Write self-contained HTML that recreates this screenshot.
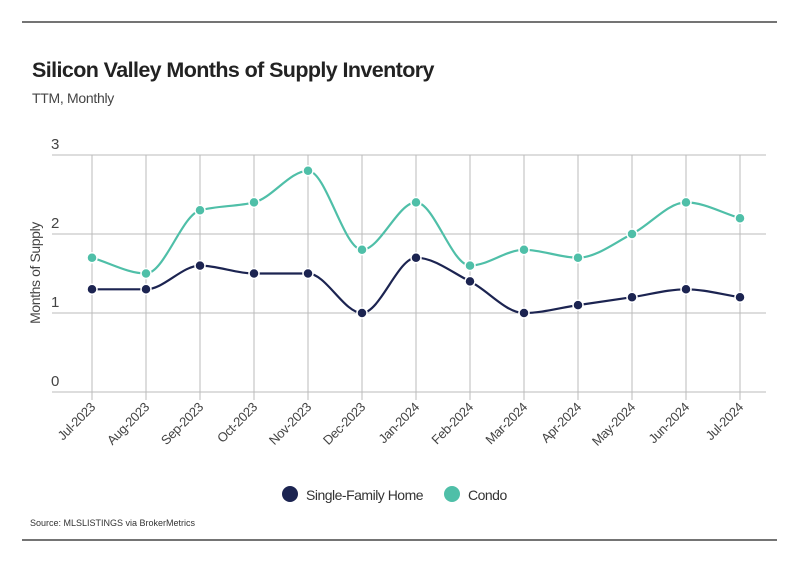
<!DOCTYPE html>
<html><head><meta charset="utf-8"><style>
body{margin:0;background:#fff;font-family:"Liberation Sans",sans-serif;}
svg text{font-family:"Liberation Sans",sans-serif;}
</style></head><body>
<svg id="c" width="799" height="575" xmlns="http://www.w3.org/2000/svg">
<line x1="22" y1="22" x2="777" y2="22" stroke="#222" stroke-width="1.2"/>
<text x="32" y="77" font-size="21.5" font-weight="bold" fill="#222" style="letter-spacing:-0.6px">Silicon Valley Months of Supply Inventory</text>
<text x="32" y="103" font-size="14" fill="#444" style="letter-spacing:-0.3px">TTM, Monthly</text>
<text transform="translate(40,273) rotate(-90)" text-anchor="middle" font-size="14" fill="#444" style="letter-spacing:-0.4px">Months of Supply</text>
<g id="grid"></g><g id="series"></g>
<circle cx="290" cy="494" r="8" fill="#1c2451"/>
<text x="306" y="500" font-size="14" fill="#333" style="letter-spacing:-0.5px">Single-Family Home</text>
<circle cx="452" cy="494" r="8" fill="#4fbfa8"/>
<text x="468" y="500" font-size="14" fill="#333" style="letter-spacing:-0.5px">Condo</text>
<text x="30" y="526" font-size="9" fill="#333">Source:  MLSLISTINGS via BrokerMetrics</text>
<line x1="22" y1="540" x2="777" y2="540" stroke="#222" stroke-width="1.2"/>
</svg>
<script>
const categories=["Jul-2023","Aug-2023","Sep-2023","Oct-2023","Nov-2023","Dec-2023","Jan-2024","Feb-2024","Mar-2024","Apr-2024","May-2024","Jun-2024","Jul-2024"];
const sfhValues=[1.3,1.3,1.6,1.5,1.5,1.0,1.7,1.4,1.0,1.1,1.2,1.3,1.2];
const condoValues=[1.7,1.5,2.3,2.4,2.8,1.8,2.4,1.6,1.8,1.7,2.0,2.4,2.2];
const yTicks=[0,1,2,3];
const NS="http://www.w3.org/2000/svg";
const x=i=>92+i*(740-92)/(categories.length-1);
const y=v=>392-v*(392-155)/3;
function mk(t,a,p){const e=document.createElementNS(NS,t);for(const k in a)e.setAttribute(k,a[k]);p.appendChild(e);return e;}
const grid=document.getElementById('grid'),ser=document.getElementById('series');
yTicks.forEach(t=>{
 const l=mk('line',{x1:52,x2:766,y1:y(t),y2:y(t),stroke:'#bbb','stroke-width':1},grid);
 
 
 const tx=mk('text',{x:51,y:y(t)-6,'font-size':15,fill:'#444'},grid);tx.textContent=t;
 
 
});
categories.forEach((c,i)=>{
 const l=mk('line',{x1:x(i),x2:x(i),y1:155,y2:400,stroke:'#bbb','stroke-width':1},grid);
 
 
 const tx=mk('text',{x:x(i)+4,y:408,'font-size':13,fill:'#444','text-anchor':'end',style:'letter-spacing:-0.4px',transform:`rotate(-45 ${x(i)+4} 408)`},grid);tx.textContent=c;
 
 
});
function monotone(pts){
 const n=pts.length,d=[],m=[];
 for(let i=0;i<n-1;i++)d.push((pts[i+1][1]-pts[i][1])/(pts[i+1][0]-pts[i][0]));
 m[0]=d[0];m[n-1]=d[n-2];
 for(let i=1;i<n-1;i++)m[i]=(d[i-1]*d[i]<=0)?0:(2/(1/d[i-1]+1/d[i]));
 let s=`M${pts[0][0]},${pts[0][1]}`;
 for(let i=0;i<n-1;i++){const h=(pts[i+1][0]-pts[i][0])/3;
  s+=`C${pts[i][0]+h},${pts[i][1]+m[i]*h} ${pts[i+1][0]-h},${pts[i+1][1]-m[i+1]*h} ${pts[i+1][0]},${pts[i+1][1]}`;}
 return s;
}
function draw(vals,col,name){
 const pts=vals.map((v,i)=>[x(i),y(v)]);
 const p=mk('path',{d:monotone(pts),fill:'none',stroke:col,'stroke-width':2.2},ser);
 
 
 pts.forEach(q=>{const c=mk('circle',{cx:q[0],cy:q[1],r:5,fill:col,stroke:'#fff','stroke-width':1.5},ser);
  
  });
}
draw(condoValues,'#4fbfa8','condo');
draw(sfhValues,'#1c2451','sfh');
</script>
</body></html>
